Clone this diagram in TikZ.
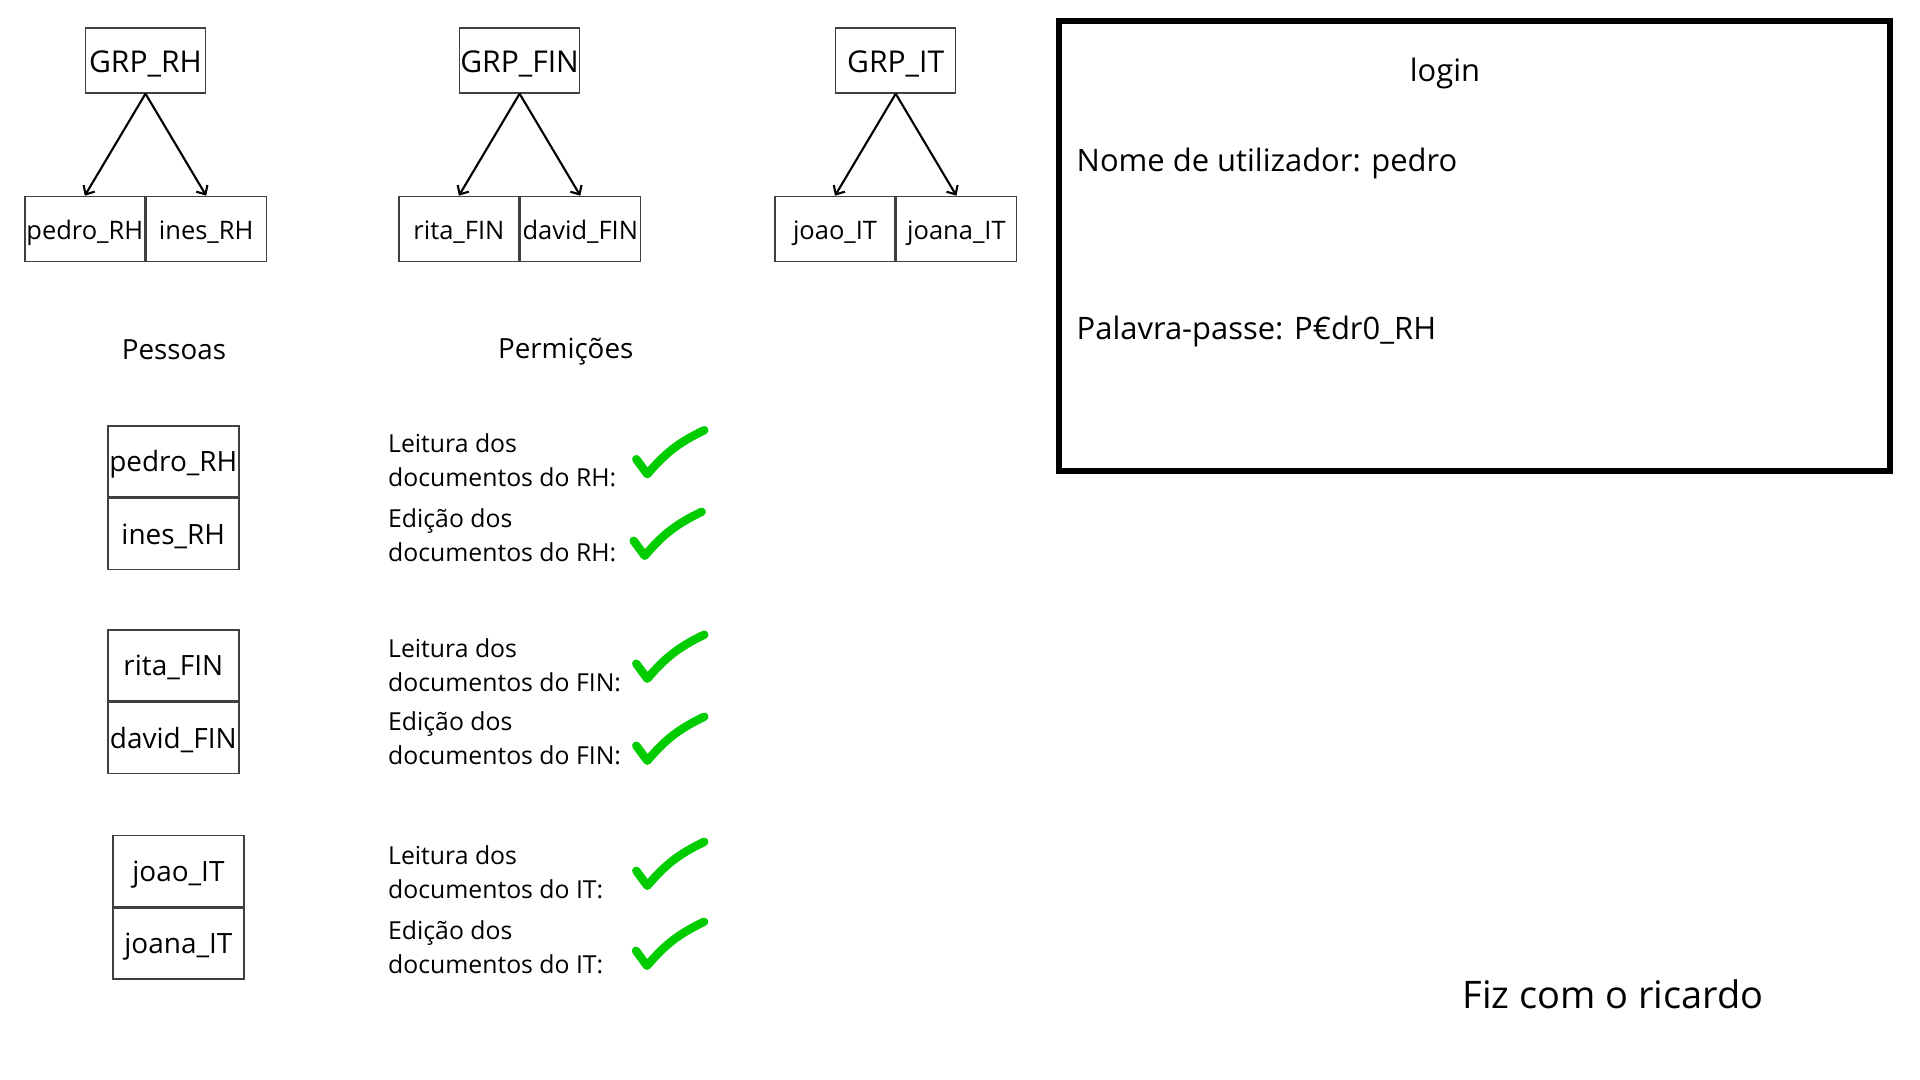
\documentclass[tikz,border=0pt]{standalone}
\usepackage{fontspec}
\setmainfont{Open Sans}
\usetikzlibrary{positioning,arrows.meta}

\definecolor{okgreen}{RGB}{0,204,0}

\begin{document}
\begin{tikzpicture}[
        group/.style={
            rectangle,
            draw=black!75,
            line width=0.4pt,
            inner sep=0pt,
            text height=0.72em,
            text depth=0.05em,
            minimum width=1.2cm,
            minimum height=0.65cm,
            font=\fontsize{8.55}{10}\selectfont
        },
        member/.style={
            group,
            text depth=0.14em,
            font=\fontsize{7.25}{8.5}\selectfont
        },
        person/.style={
            group,
            text depth=0.14em,
            minimum width=1.31cm,
            minimum height=0.71cm,
            font=\fontsize{7.95}{9.5}\selectfont
        },
        header/.style={
            font=\fontsize{7.9}{9}\selectfont
        },
        perm/.style={
            anchor=west,
            align=left,
            inner sep=0pt,
            font=\fontsize{7.05}{9.76}\selectfont
        },
        panel/.style={
            rectangle,
            draw=black,
            line width=1.7pt,
            inner sep=0pt,
            minimum width=8.31cm,
            minimum height=4.5cm
        },
        field/.style={
            anchor=west,
            inner sep=0pt,
            font=\fontsize{8.8}{10.5}\selectfont
        },
        belongs/.style={
            -{Straight Barb[length=0.7mm,width=1.3mm]},
            line width=0.6pt
        },
        tick/.style={
            draw=okgreen,
            line width=2.4pt,
            line cap=round,
            line join=round
        }
    ]

        \useasboundingbox (0,0) rectangle (19.2,-10.8);

        % groups
        \node[group] (grprh) at (1.455,-0.605) {GRP\_RH};
        \node[group] (grpfin) at (5.196,-0.605) {GRP\_FIN};
        \node[group] (grpit) at (8.957,-0.605) {GRP\_IT};

        \node[member, below left=1.02cm and 0cm of grprh.south] (pedrorh) {pedro\_RH};
        \node[member, right=0pt of pedrorh] (inesrh) {ines\_RH};
        \node[member, below left=1.02cm and 0cm of grpfin.south] (ritafin) {rita\_FIN};
        \node[member, right=0pt of ritafin] (davidfin) {david\_FIN};
        \node[member, below left=1.02cm and 0cm of grpit.south] (joaoit) {joao\_IT};
        \node[member, right=0pt of joaoit] (joanait) {joana\_IT};

        \draw[belongs] (grprh.south) -- (pedrorh.north);
        \draw[belongs] (grprh.south) -- (inesrh.north);
        \draw[belongs] (grpfin.south) -- (ritafin.north);
        \draw[belongs] (grpfin.south) -- (davidfin.north);
        \draw[belongs] (grpit.south) -- (joaoit.north);
        \draw[belongs] (grpit.south) -- (joanait.north);

        % people and permissions
        \node[header] (pessoas) at (1.74,-3.50) {Pessoas};
        \node[header] (permicoes) at (5.657,-3.515) {Permições};

        \node[person] (prh) at (1.733,-4.615) {pedro\_RH};
        \node[person, below=0pt of prh] (irh) {ines\_RH};
        \node[person] (rfin) at (1.733,-6.655) {rita\_FIN};
        \node[person, below=0pt of rfin] (dfin) {david\_FIN};
        \node[person] (jit) at (1.784,-8.709) {joao\_IT};
        \node[person, below=0pt of jit] (jait) {joana\_IT};

        \node[perm] (leitrh) at (3.875,-4.60) {Leitura dos\\documentos do RH:};
        \node[perm] (edirh) at (3.875,-5.35) {Edição dos\\documentos do RH:};
        \node[perm] (leitfin) at (3.875,-6.65) {Leitura dos\\documentos do FIN:};
        \node[perm] (edifin) at (3.875,-7.38) {Edição dos\\documentos do FIN:};
        \node[perm] (leitit) at (3.875,-8.72) {Leitura dos\\documentos do IT:};
        \node[perm] (ediit) at (3.875,-9.47) {Edição dos\\documentos do IT:};

        \foreach \x/\y in {6.363/4.592, 6.337/5.408, 6.363/6.637, 6.363/7.457, 6.363/8.708, 6.36/9.508}
            \draw[tick] (\x,-\y) -- ++(0.11,-0.15) to[bend left=12] ++(0.57,0.44);

        % login
        \node[panel] (loginbox) at (14.749,-2.456) {};
        \node[field, anchor=center] (login) at (14.45,-0.735) {login};
        \node[field] (utilizador) at (10.76,-1.635) {Nome de utilizador: pedro};
        \node[field] (passe) at (10.76,-3.31) {Palavra-passe: P€dr0\_RH};

        \node[font=\fontsize{10.8}{12.5}\selectfont] (nota) at (16.13,-9.94) {Fiz com o ricardo};

    \end{tikzpicture}
\end{document}
